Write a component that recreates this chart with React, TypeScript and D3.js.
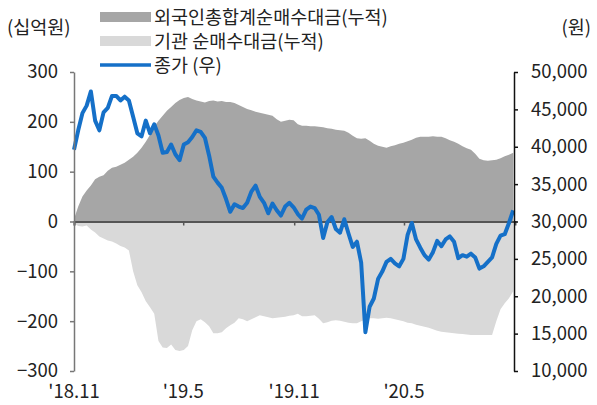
import React, { useEffect, useRef } from 'react';
import * as d3 from 'd3';

// weekly observations, starting 2018-11-01
const startDate = new Date(2018, 10, 1);
const endDate = new Date(2020, 10, 1);

// 외국인 총합계 순매수대금 누적 (십억원)
const foreignCum = [
  5, 30, 50, 62, 72, 85, 90, 93, 102, 108, 110, 114, 118, 124, 130, 138, 148, 160, 174, 190,
  202, 212, 222, 230, 238, 244, 248, 250, 246, 243, 241, 239, 242, 243, 241, 242, 240, 240, 238, 234,
  230, 226, 223, 220, 218, 216, 214, 212, 205, 200, 202, 204, 203, 195, 192, 192, 191, 191, 190, 189,
  187, 186, 184, 183, 182, 178, 172, 167, 166, 167, 162, 156, 152, 150, 148, 151, 153, 156, 158, 161,
  164, 168, 170, 170, 170, 171, 170, 170, 167, 163, 160, 156, 151, 147, 144, 136, 126, 123, 122, 123,
  124, 127, 131, 134, 138,
];

// 기관 순매수대금 누적 (십억원)
const instCum = [
  -4, -9, -10, -8, -16, -22, -30, -34, -38, -40, -44, -49, -52, -58, -100, -128, -142, -160, -172, -185,
  -240, -253, -254, -247, -258, -260, -258, -250, -218, -200, -196, -202, -210, -224, -224, -222, -214, -208, -203, -194,
  -196, -200, -196, -192, -188, -190, -192, -194, -193, -192, -191, -189, -188, -185, -190, -190, -189, -188, -195, -204,
  -202, -199, -198, -199, -201, -203, -204, -204, -200, -197, -194, -194, -195, -194, -193, -194, -196, -198, -200, -203,
  -204, -207, -209, -211, -213, -216, -219, -221, -222, -223, -224, -225, -226, -227, -228, -228, -228, -228, -228, -228,
  -200, -176, -164, -154, -140,
];

// 종가 (원)
const closePrice = [
  39600, 42200, 44500, 45500, 47400, 43500, 42200, 44600, 45200, 46800, 46800, 46200, 46700, 46200, 44000, 41800, 41400, 43500, 41800, 43000,
  41500, 39200, 39300, 40300, 39000, 38200, 40300, 40600, 41300, 42200, 42000, 41200, 38800, 36000, 35200, 34500, 33000, 31300, 32300, 32000,
  31800, 32500, 34000, 34800, 33300, 32500, 31100, 32400, 31500, 30800, 32000, 32500, 31900, 31000, 30400, 31600, 32000, 31800, 30900, 27800,
  29900, 30600, 29000, 28500, 30300, 28400, 26600, 27300, 24500, 15200, 18600, 19700, 22300, 23300, 24600, 25000, 24400, 24000, 25000, 28200,
  29800, 27600, 26500, 25500, 24900, 25900, 27400, 26700, 27600, 28000, 27300, 25100, 25500, 25300, 25700, 25200, 23700, 24000, 24600, 25200,
  27000, 28100, 28300, 29800, 31500,
];

const leftTicks = [-300, -200, -100, 0, 100, 200, 300];
const rightTicks = [10000, 15000, 20000, 25000, 30000, 35000, 40000, 45000, 50000];
const xTickDates = [new Date(2018, 10, 1), new Date(2019, 4, 1), new Date(2019, 10, 1), new Date(2020, 4, 1)];
const xTickLabels = ["'18.11", "'19.5", "'19.11", "'20.5"];

const legendItems = [
  { label: '외국인총합계순매수대금(누적)', kind: 'box', color: '#a6a6a6' },
  { label: '기관 순매수대금(누적)', kind: 'box', color: '#d9d9d9' },
  { label: '종가 (우)', kind: 'line', color: '#1570c8' },
];

const W = 597;
const H = 405;
const FONT = '"Noto Sans CJK KR", "Noto Sans", sans-serif';
const FS = 18.5;

const App = () => {
  const ref = useRef<SVGSVGElement>(null);

  useEffect(() => {
    const svg = d3.select(ref.current);
    svg.selectAll('*').remove();

    const dates = closePrice.map((_, i) => d3.timeDay.offset(startDate, i * 7));

    const x = d3.scaleTime().domain([startDate, endDate]).range([74, 515]);
    const yL = d3.scaleLinear().domain([-300, 300]).range([371, 72]);
    const yR = d3.scaleLinear().domain([10000, 50000]).range([371, 72]);

    // areas
    const foreignArea = d3.area<number>()
      .x((_, i) => x(dates[i]))
      .y0(yL(0))
      .y1(d => yL(d));
    svg.append('path').attr('d', foreignArea(foreignCum)).attr('fill', '#a6a6a6');

    const instArea = d3.area<number>()
      .x((_, i) => x(dates[i]))
      .y0(yL(0))
      .y1(d => yL(d));
    svg.append('path').attr('d', instArea(instCum)).attr('fill', '#d9d9d9');

    // zero line with x ticks
    const xAxis = svg.append('g')
      .attr('transform', `translate(0,${yL(0)})`)
      .call(d3.axisBottom(x).tickValues(xTickDates).tickSize(4).tickFormat(() => ''));
    xAxis.select('.domain').attr('stroke', '#555').attr('stroke-width', 2);
    xAxis.selectAll('.tick line').attr('stroke', '#555').attr('stroke-width', 1.5);

    svg.selectAll('.xlabel')
      .data(xTickDates)
      .enter().append('text')
      .attr('x', d => x(d))
      .attr('y', 398)
      .attr('text-anchor', 'middle')
      .attr('font-family', FONT)
      .attr('font-size', FS)
      .attr('fill', '#222')
      .text((_, i) => xTickLabels[i]);

    // price line
    const line = d3.line<number>()
      .x((_, i) => x(dates[i]))
      .y(d => yR(d));
    svg.append('path')
      .attr('d', line(closePrice))
      .attr('fill', 'none')
      .attr('stroke', '#1570c8')
      .attr('stroke-width', 4)
      .attr('stroke-linejoin', 'round');

    // left axis
    const left = svg.append('g')
      .attr('transform', 'translate(74,0)')
      .call(d3.axisLeft(yL).tickValues(leftTicks).tickSize(4).tickPadding(12).tickSizeOuter(0));
    left.select('.domain').attr('stroke', '#777').attr('stroke-width', 1.5);
    left.selectAll('.tick line').attr('stroke', '#777').attr('stroke-width', 1.5);
    left.selectAll('text').attr('font-family', FONT).attr('font-size', FS).attr('fill', '#222');

    // right axis
    const right = svg.append('g')
      .attr('transform', 'translate(514,0)')
      .call(d3.axisRight(yR).tickValues(rightTicks).tickSize(4).tickPadding(13).tickSizeOuter(0)
        .tickFormat(d => d3.format(',')(d as number)));
    right.select('.domain').attr('stroke', '#111').attr('stroke-width', 1.5);
    right.selectAll('.tick line').attr('stroke', '#111').attr('stroke-width', 1.5);
    right.selectAll('text').attr('font-family', FONT).attr('font-size', FS).attr('fill', '#222');

    // units
    svg.append('text').attr('x', 7).attr('y', 34).attr('font-family', FONT)
      .attr('font-size', FS).attr('fill', '#222').text('(십억원)');
    svg.append('text').attr('x', 591).attr('y', 34).attr('text-anchor', 'end').attr('font-family', FONT)
      .attr('font-size', FS).attr('fill', '#222').text('(원)');

    // legend
    const lg = svg.append('g');
    legendItems.forEach((item, i) => {
      const cy = 17 + i * 24;
      if (item.kind === 'box') {
        lg.append('rect').attr('x', 100).attr('y', cy - 5).attr('width', 51).attr('height', 10).attr('fill', item.color);
      } else {
        lg.append('line').attr('x1', 100).attr('x2', 151).attr('y1', cy).attr('y2', cy)
          .attr('stroke', item.color).attr('stroke-width', 3.5);
      }
      lg.append('text').attr('x', 154).attr('y', cy + 6.5).attr('font-family', FONT)
        .attr('font-size', FS).attr('fill', '#222').text(item.label);
    });
  }, []);

  return <svg ref={ref} width={W} height={H} style={{ position: 'absolute', left: 0, top: 0 }} />;
};

export default App;
